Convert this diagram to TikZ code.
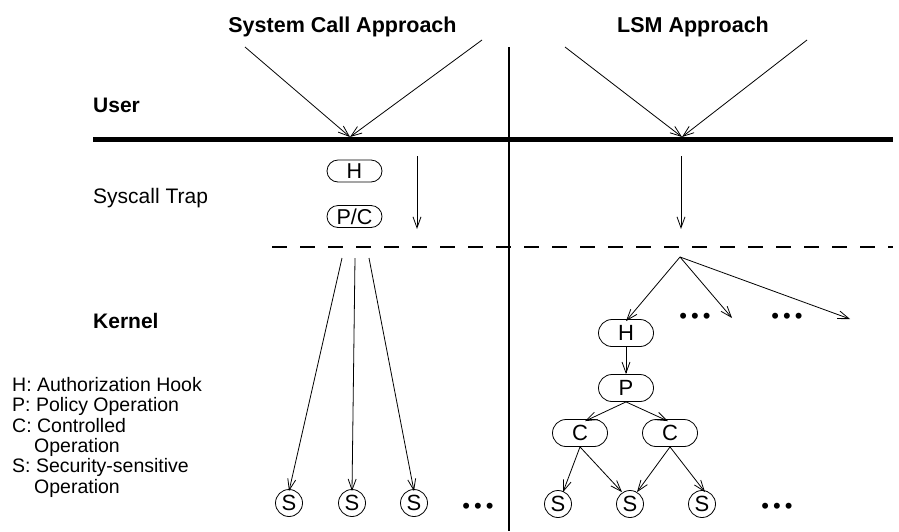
\documentclass[tikz,border=0pt]{standalone}
\usepackage{fontspec}
\setmainfont{Liberation Sans}
\usetikzlibrary{arrows.meta,shapes.misc}
\begin{document}
\begin{tikzpicture}[x=1pt,y=-1pt,
  arr/.style={-{Straight Barb[length=11pt,width=8pt]}, line width=0.8pt},
  rbox/.style={draw, rounded rectangle, line width=0.8pt, minimum width=55pt, inner sep=0pt},
  sbox/.style={rbox, minimum height=22pt, font=\fontsize{21.5}{21.5}\selectfont},
  bbox/.style={rbox, minimum height=27pt, font=\fontsize{22}{22}\selectfont},
  scirc/.style={draw, circle, minimum size=27pt, inner sep=0pt, line width=0.8pt, font=\fontsize{22}{22}\selectfont},
  ttl/.style={anchor=base, font=\fontsize{21.5}{21.5}\selectfont\bfseries},
  blbl/.style={anchor=base west, inner sep=0pt, font=\fontsize{21}{21}\selectfont\bfseries},
  lbl/.style={anchor=base west, inner sep=0pt, font=\fontsize{21}{21}\selectfont},
  leg/.style={anchor=base west, inner sep=0pt, font=\fontsize{19.5}{19.5}\selectfont},
  dotsn/.style={inner sep=0pt, font=\fontsize{22}{22}\selectfont},
  sep/.style={line width=1.3pt}
]
\useasboundingbox (0,0) rectangle (899,531);

% titles
\node[ttl] (t1) at (342.5,32) {System Call Approach};
\node[ttl] (t2) at (693,32) {LSM Approach};

% region labels
\node[blbl] (user) at (93,112) {User};
\node[lbl] (trap) at (93,203) {Syscall Trap};
\node[blbl] (kern) at (93,328) {Kernel};

% legend
\node[leg] (l1) at (12,391) {H: Authorization Hook};
\node[leg] (l2) at (12,411.5) {P: Policy Operation};
\node[leg] (l3) at (12,432) {C: Controlled};
\node[leg] (l4) at (34,452) {Operation};
\node[leg] (l5) at (12,472.5) {S: Security-sensitive};
\node[leg] (l6) at (34,493) {Operation};

% separators
\coordinate (vtop) at (509,47);
\coordinate (vbot) at (509,531);
\draw[sep] (vtop) -- (vbot);
\coordinate (ul) at (93,139.5);
\coordinate (ur) at (893,139.5);
\draw[line width=4.5pt] (ul) -- (ur);
\coordinate (dl) at (272,247);
\coordinate (dr) at (893,247);
\draw[line width=1.6pt, dash pattern=on 15pt off 13pt] (dl) -- (dr);

% user-level arrows
\coordinate (a1) at (245,47);
\coordinate (a2) at (482,40);
\coordinate (m1) at (350,137);
\draw[arr] (a1) -- (m1);
\draw[arr] (a2) -- (m1);
\coordinate (b1) at (565,47);
\coordinate (b2) at (807,40);
\coordinate (m2) at (682,137);
\draw[arr] (b1) -- (m2);
\draw[arr] (b2) -- (m2);

% syscall trap
\node[sbox] (hL) at (354.5,171) {H};
\node[sbox] (pcL) at (354.5,216.5) {P/C};
\coordinate (trs) at (417,156);
\coordinate (tre) at (417,229);
\draw[arr] (trs) -- (tre);
\coordinate (lrs) at (681,156);
\coordinate (lre) at (681,229);
\draw[arr] (lrs) -- (lre);

% kernel, syscall side
\node[scirc] (s1) at (289,503) {S};
\node[scirc] (s2) at (352,503) {S};
\node[scirc] (s3) at (414,503) {S};
\node[dotsn] (d1) at (478,508) {•\hspace{4pt}•\hspace{4pt}•};
\coordinate (k1) at (342,258);
\coordinate (k2) at (355,258);
\coordinate (k3) at (369,258);
\draw[arr] (k1) -- ([yshift=-2pt]s1.north);
\draw[arr] (k2) -- ([yshift=-2pt]s2.north);
\draw[arr] (k3) -- ([yshift=-2pt]s3.north);

% kernel, LSM side
\coordinate (fan) at (680,257);
\node[bbox] (hR) at (626,333) {H};
\node[bbox] (pR) at (626,388) {P};
\node[bbox] (c1) at (580,433) {C};
\node[bbox] (c2) at (670,433) {C};
\node[scirc] (r1) at (558,504) {S};
\node[scirc] (r2) at (630,504) {S};
\node[scirc] (r3) at (702,504) {S};
\node[dotsn] (d2) at (695,318) {•\hspace{4pt}•\hspace{4pt}•};
\node[dotsn] (d3) at (787,318) {•\hspace{4pt}•\hspace{4pt}•};
\node[dotsn] (d4) at (777,508) {•\hspace{4pt}•\hspace{4pt}•};
\coordinate (f2) at (732,318);
\coordinate (f3) at (850,319);
\draw[arr] (fan) -- ([yshift=-2pt]hR.north);
\draw[arr] (fan) -- (f2);
\draw[arr] (fan) -- (f3);
\draw[arr] (hR.south) -- (pR.north);
\draw[arr] (pR.south) -- ([xshift=5pt,yshift=-2pt]c1.north);
\draw[arr] (pR.south) -- ([xshift=-2pt,yshift=-2pt]c2.north);
\draw[arr] (c1.south) -- ([xshift=5pt,yshift=-2pt]r1.north);
\draw[arr] (c1.south) -- ([xshift=-8pt,yshift=-2pt]r2.north);
\draw[arr] (c2.south) -- ([xshift=7pt,yshift=-2pt]r2.north);
\draw[arr] (c2.south) -- ([xshift=3pt,yshift=-2pt]r3.north);
\end{tikzpicture}
\end{document}
